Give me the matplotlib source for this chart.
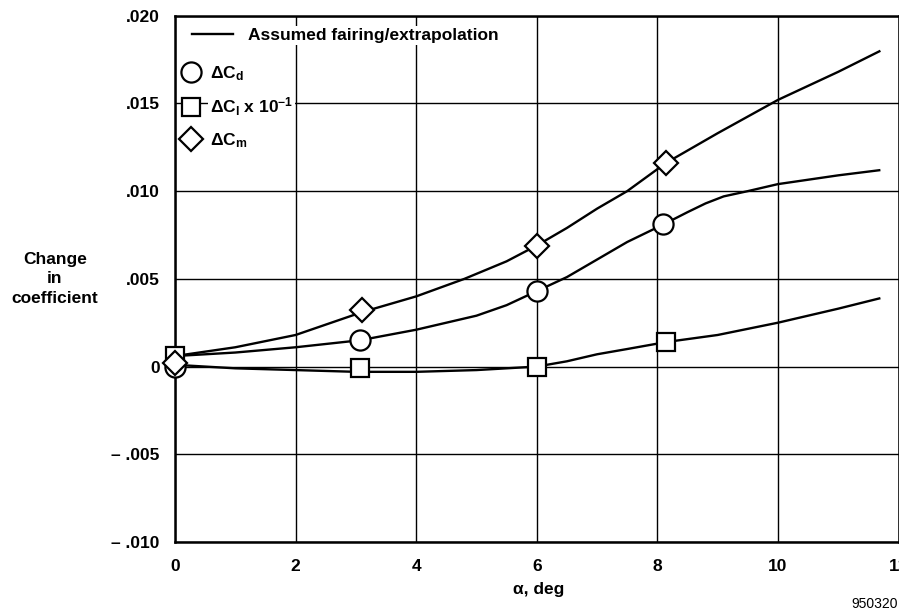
import matplotlib
matplotlib.use("Agg")
import matplotlib.pyplot as plt
from matplotlib.lines import Line2D
from matplotlib.ticker import FixedLocator, FixedFormatter

plt.rcParams["font.family"] = ["Liberation Sans", "DejaVu Sans"]
plt.rcParams["font.weight"] = "bold"
plt.rcParams["axes.labelweight"] = "bold"
plt.rcParams["mathtext.fontset"] = "custom"
plt.rcParams["mathtext.rm"] = "Liberation Sans:bold"
plt.rcParams["mathtext.it"] = "Liberation Sans:bold"
plt.rcParams["mathtext.bf"] = "Liberation Sans:bold"
plt.rcParams["mathtext.default"] = "rm"

# ---- measured points (alpha, deg) ----
cd_alpha = [0.0, 3.07, 6.0, 8.1]
cd_vals = [0.0, 0.0015, 0.0043, 0.0081]

cl_alpha = [0.0, 3.07, 6.0, 8.15]
cl_vals = [0.0006, -0.0001, 0.0000, 0.0014]   # delta C_l x 10^-1

cm_alpha = [0.0, 3.1, 6.0, 8.14]
cm_vals = [0.0002, 0.0032, 0.0069, 0.0116]

# ---- assumed fairing / extrapolation curves ----
cm_fair_alpha = [0, 1, 2, 3.1, 4, 4.8, 5.5, 6, 6.5, 7, 7.5, 8.14, 9, 10,
                 11, 11.7]
cm_fair_vals = [0.0006, 0.0011, 0.0018, 0.0031, 0.0040, 0.0050, 0.0060,
                0.0069, 0.0079, 0.0090, 0.0100, 0.0116, 0.0133, 0.0152,
                0.0168, 0.0180]

cd_fair_alpha = [0, 1, 2, 3.07, 4, 5, 5.5, 6, 6.5, 7, 7.5, 8.1, 8.5, 8.8,
                 9.1, 9.5, 10, 11, 11.7]
cd_fair_vals = [0.0006, 0.0008, 0.0011, 0.0015, 0.0021, 0.0029, 0.0035,
                0.0043, 0.0051, 0.0061, 0.0071, 0.0081, 0.0088, 0.0093,
                0.0097, 0.0100, 0.0104, 0.0109, 0.0112]

cl_fair_alpha = [0, 1, 2, 3, 4, 5, 5.5, 6, 6.5, 7, 7.5, 8.15, 9, 10, 11, 11.7]
cl_fair_vals = [0.0001, -0.0001, -0.0002, -0.0003, -0.0003, -0.0002,
                -0.0001, 0.0000, 0.0003, 0.0007, 0.0010, 0.0014, 0.0018,
                0.0025, 0.0033, 0.0039]

x_ticks = [0, 2, 4, 6, 8, 10, 12]
x_tick_labels = ["0", "2", "4", "6", "8", "10", "12"]
y_ticks = [-0.010, -0.005, 0.0, 0.005, 0.010, 0.015, 0.020]
y_tick_labels = ["\u2013 .010", "\u2013 .005", "0", ".005", ".010", ".015", ".020"]

FS = 12.5
LW = 1.7

fig = plt.figure(figsize=(8.99, 6.12), dpi=100)
ax = fig.add_axes([175 / 899, 1 - 542 / 612, 723.5 / 899, (542 - 15.7) / 612])

ax.set_xlim(0, 12)
ax.set_ylim(-0.010, 0.020)
ax.xaxis.set_major_locator(FixedLocator(x_ticks))
ax.xaxis.set_major_formatter(FixedFormatter(x_tick_labels))
ax.yaxis.set_major_locator(FixedLocator(y_ticks))
ax.yaxis.set_major_formatter(FixedFormatter(y_tick_labels))
ax.tick_params(length=0, labelsize=FS)
ax.tick_params(axis="x", pad=12)
ax.tick_params(axis="y", pad=11)
ax.grid(True, color="black", linewidth=1.0)
ax.set_axisbelow(True)
for sp in ax.spines.values():
    sp.set_linewidth(1.8)

# fairing curves
for xs, ys in [(cm_fair_alpha, cm_fair_vals),
               (cd_fair_alpha, cd_fair_vals),
               (cl_fair_alpha, cl_fair_vals)]:
    ax.plot(xs, ys, color="black", linewidth=LW, zorder=3,
            solid_joinstyle="round", solid_capstyle="butt")

mk = dict(linestyle="none", markerfacecolor="white", markeredgecolor="black",
          markeredgewidth=1.6, clip_on=False, zorder=4)
ax.plot(cd_alpha, cd_vals, marker="o", markersize=14.5, **mk)
ax.plot(cl_alpha, cl_vals, marker="s", markersize=13, **mk)
ax.plot(cm_alpha, cm_vals, marker="D", markersize=12.5, **mk)

# legends
h_line = [Line2D([], [], color="black", linewidth=LW)]
leg1 = ax.legend(h_line, ["Assumed fairing/extrapolation"], loc="upper left",
                 bbox_to_anchor=(0.0235, 0.977), frameon=False, fontsize=FS,
                 handlelength=2.36, handletextpad=0.86, borderpad=0,
                 borderaxespad=0)
ax.add_artist(leg1)

lmk = dict(linestyle="none", markerfacecolor="white", markeredgecolor="black",
           markeredgewidth=1.6)
h_mk = [Line2D([], [], marker="o", markersize=14.5, **lmk),
        Line2D([], [], marker="s", markersize=13, **lmk),
        Line2D([], [], marker="D", markersize=12.5, **lmk)]
labels = [r"$\Delta C_d$", r"$\Delta C_l$ x 10$^{-1}$", r"$\Delta C_m$"]
leg2 = ax.legend(h_mk, labels, loc="upper left",
                 bbox_to_anchor=(0.0083, 0.908), frameon=False, fontsize=FS,
                 handlelength=1.2, handletextpad=0.46, borderpad=0,
                 borderaxespad=0, labelspacing=0.75)
for leg in (leg1, leg2):
    for t in leg.get_texts():
        t.set_bbox(dict(facecolor="white", edgecolor="none", pad=1.5))

ax.set_ylabel("Change\nin\ncoefficient", rotation=0, fontsize=FS,
              fontweight="bold", ha="center", va="center",
              multialignment="center", linespacing=1.35)
ax.yaxis.set_label_coords(-0.166, 0.50)
ax.set_xlabel("\u03b1, deg", fontsize=FS, fontweight="bold", va="center")
ax.xaxis.set_label_coords(0.5024, -0.0912)

fig.text(0.999, 0.013, "950320", ha="right", va="center", fontsize=10,
         fontweight="normal")

fig.savefig("out.png", dpi=100)
